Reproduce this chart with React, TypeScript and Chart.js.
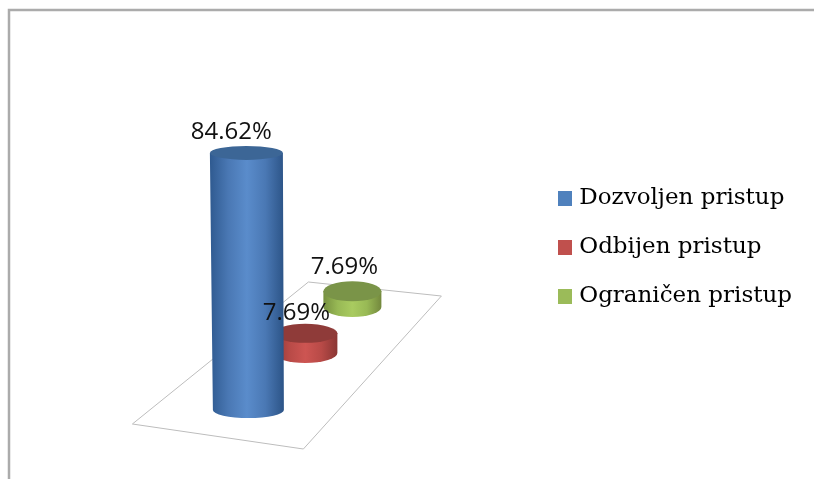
import React, { useEffect, useRef } from "react";
import { Chart, registerables } from "chart.js";

Chart.register(...registerables);

const categories = ["Pristup"];
const seriesNames = ["Dozvoljen pristup", "Odbijen pristup", "Ograničen pristup"];
const dozvoljen = [84.62];
const odbijen = [7.69];
const ogranicen = [7.69];
const tickLabels = ["84.62%", "7.69%", "7.69%"];

const Y_MAX = 107.3;
const legendColors = ["#4f81bd", "#c0504d", "#9bbb59"];

// Perspective styling for each series (pixels relative to the bar the library lays out)
const BLUE_DX = -21;
const looks = [
  { dx: BLUE_DX, dy: 0, scale: 1, rxTop: 36.5, rxBottom: 35.5, ryTop: 7, ryBottom: 8, labelDx: -15, labelDy: -21, shade: ["#2f5a90", "#4a78b4", "#5a8ccb", "#4a78b4", "#2c5487"], top: "#3c6696" },
  { dx: BLUE_DX + 58, dy: 57, scale: 0.84, rxTop: 32, rxBottom: 32, ryTop: 9.5, ryBottom: 10, labelDx: -9, labelDy: -20, shade: ["#8c3836", "#b84a47", "#cd5552", "#b84a47", "#8a3634"], top: "#8f3b39" },
  { dx: BLUE_DX + 105, dy: 103, scale: 0.67, rxTop: 29, rxBottom: 29, ryTop: 10, ryBottom: 10, labelDx: -8, labelDy: -24, shade: ["#76903f", "#98b955", "#a9cb60", "#98b955", "#73883d"], top: "#7a9448" },
];

// Floor outline, relative to the y=0 line and the blue cylinder's centre
const floorOffsets = [
  [-115, 14],
  [56, 39],
  [194, -114],
  [61, -128],
];

const cylinders = {
  id: "cylinders",
  beforeDraw(chart: any) {
    const { ctx } = chart;
    ctx.save();
    ctx.strokeStyle = "#ababab";
    ctx.lineWidth = 2.5;
    ctx.strokeRect(9, 10, chart.width + 50, chart.height + 50);
    ctx.restore();
  },
  afterDatasetsDraw(chart: any) {
    const { ctx } = chart;
    const zero = chart.scales.y.getPixelForValue(0);
    const cx = chart.getDatasetMeta(0).data[0].x + BLUE_DX;

    ctx.save();
    ctx.strokeStyle = "#bdbdbd";
    ctx.lineWidth = 1;
    ctx.beginPath();
    floorOffsets.forEach(([a, b], i) => {
      if (i === 0) ctx.moveTo(cx + a, zero + b);
      else ctx.lineTo(cx + a, zero + b);
    });
    ctx.closePath();
    ctx.stroke();
    ctx.restore();

    const spots: any[] = [];
    [2, 1, 0].forEach((d) => {
      const look = looks[d];
      const bar = chart.getDatasetMeta(d).data[0];
      const x = bar.x + look.dx;
      const base = bar.base - look.dy;
      const top = base - (bar.base - bar.y) * look.scale;
      const xTop = x - (d === 0 ? 1 : 0);
      const xBottom = x + (d === 0 ? 1 : 0);
      const left = Math.min(xTop - look.rxTop, xBottom - look.rxBottom);
      const right = Math.max(xTop + look.rxTop, xBottom + look.rxBottom);
      const g = ctx.createLinearGradient(left, 0, right, 0);
      look.shade.forEach((c, i) => g.addColorStop(i / (look.shade.length - 1), c));
      ctx.save();
      ctx.fillStyle = g;
      ctx.beginPath();
      ctx.ellipse(xBottom, base, look.rxBottom, look.ryBottom, 0, 0, Math.PI);
      ctx.lineTo(xTop - look.rxTop, top);
      ctx.lineTo(xTop + look.rxTop, top);
      ctx.closePath();
      ctx.fill();
      ctx.fillStyle = look.top;
      ctx.beginPath();
      ctx.ellipse(xTop, top, look.rxTop, look.ryTop, 0, 0, Math.PI * 2);
      ctx.fill();
      ctx.restore();
      spots[d] = { x: xTop + look.labelDx, y: top + look.labelDy };
    });

    ctx.save();
    ctx.fillStyle = "#111";
    ctx.font = '24px "Open Sans"';
    ctx.textAlign = "center";
    ctx.textBaseline = "middle";
    tickLabels.forEach((t, i) => ctx.fillText(t, spots[i].x, spots[i].y));
    ctx.restore();
  },
};

function swatch(color: string) {
  const c = document.createElement("canvas");
  c.width = 14;
  c.height = 15;
  const x = c.getContext("2d")!;
  x.fillStyle = color;
  x.fillRect(0, 0, 14, 15);
  return c;
}

export default function App() {
  const ref = useRef<HTMLCanvasElement>(null);
  useEffect(() => {
    const values = [dozvoljen, odbijen, ogranicen];
    const chart = new Chart(ref.current!, {
      type: "bar",
      data: {
        labels: categories,
        datasets: seriesNames.map((label, i) => ({
          label,
          data: values[i],
          backgroundColor: "rgba(0,0,0,0)",
          grouped: false,
          barThickness: 70,
        })),
      },
      plugins: [cylinders],
      options: {
        animation: false,
        responsive: false,
        layout: { padding: { top: 84, bottom: 69, left: 0, right: 12 } },
        scales: {
          x: { display: false },
          y: { display: false, min: 0, max: Y_MAX },
        },
        plugins: {
          tooltip: { enabled: false },
          legend: {
            position: "right",
            labels: {
              usePointStyle: true,
              pointStyleWidth: 5,
              boxHeight: 15,
              padding: 26,
              color: "#111",
              font: { family: '"DejaVu Serif"', size: 23 },
              generateLabels: () =>
                seriesNames.map((text, i) => ({
                  text,
                  datasetIndex: i,
                  fillStyle: legendColors[i],
                  strokeStyle: legendColors[i],
                  lineWidth: 0,
                  hidden: false,
                  pointStyle: swatch(legendColors[i]),
                })),
            },
          },
        },
      },
    } as any);
    return () => chart.destroy();
  }, []);
  return (
    <div style={{ position: "fixed", left: 0, top: 0, width: 814, height: 479, background: "#fff" }}>
      <canvas ref={ref} width={814} height={479} style={{ display: "block", filter: "blur(0.5px)" }} />
    </div>
  );
}
